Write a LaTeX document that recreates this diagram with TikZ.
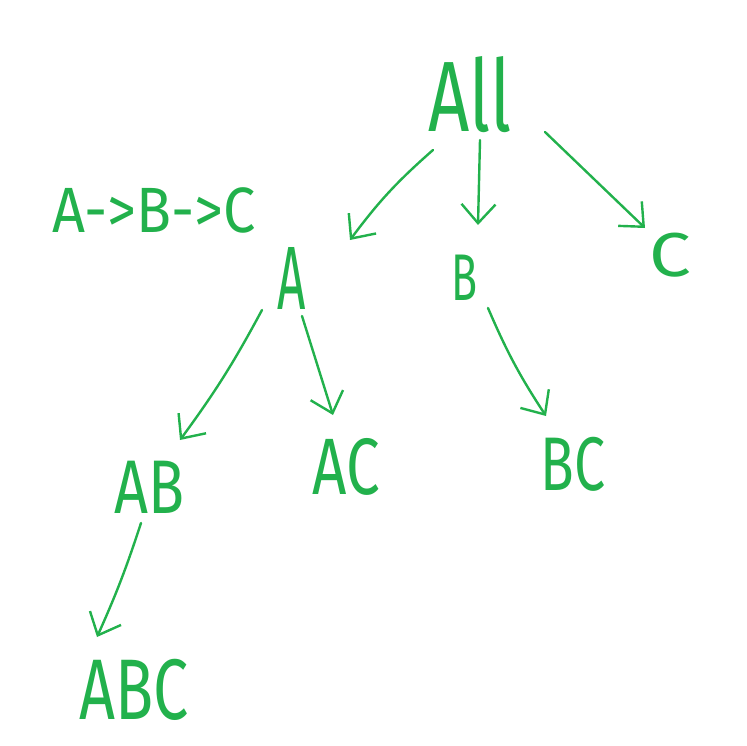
\documentclass[tikz,border=0pt]{standalone}
\usepackage{fontspec}
\setmainfont{Fira Sans}
\usetikzlibrary{arrows.meta,calc}
\definecolor{hand}{RGB}{34,177,76}
\tikzset{
  lbl/.style={text=hand, font=\fontsize{#1}{#1}\selectfont, inner sep=1pt, transform shape},
  arr/.style={draw=hand, line width=2.4pt, line cap=round, line join=round,
    -{Straight Barb[length=19pt,width=34pt,line width=2.4pt]}}
}
\begin{document}
\begin{tikzpicture}[x=1pt,y=-1pt]
\useasboundingbox (0,0) rectangle (747,745);
\node[lbl=100, xscale=0.72] (All) at (470,95) {All};
\node[lbl=64, xscale=0.9] (chain) at (154,210) {A->B->C};
\node[lbl=90, xscale=0.55] (A) at (292,278) {A};
\node[lbl=66, xscale=0.65] (B) at (465,278) {B};
\node[lbl=62, xscale=1.2] (C) at (670,255) {C};
\node[lbl=76, xscale=0.78] (AB) at (150,487) {AB};
\node[lbl=80, xscale=0.75] (AC) at (346,467) {AC};
\node[lbl=76, xscale=0.73] (BC) at (573,464) {BC};
\node[lbl=86, xscale=0.73] (ABC) at (134,690) {ABC};
\draw[arr] ($(All)+(-37,55)$) to[bend right=6] ($(A)+(58,-38)$);
\draw[arr] ($(All)+(10,45)$) -- ($(B)+(13,-53)$);
\draw[arr] ($(All)+(75,37)$) -- ($(C)+(-25,-27)$);
\draw[arr] ($(A)+(-30,32)$) to[bend left=4] ($(AB)+(30,-47)$);
\draw[arr] ($(A)+(10,38)$) -- ($(AC)+(-13,-52)$);
\draw[arr] ($(B)+(23,30)$) to[bend right=5] ($(BC)+(-27,-48)$);
\draw[arr] ($(AB)+(-9,36)$) to[bend left=3] ($(ABC)+(-37,-53)$);
\end{tikzpicture}
\end{document}
